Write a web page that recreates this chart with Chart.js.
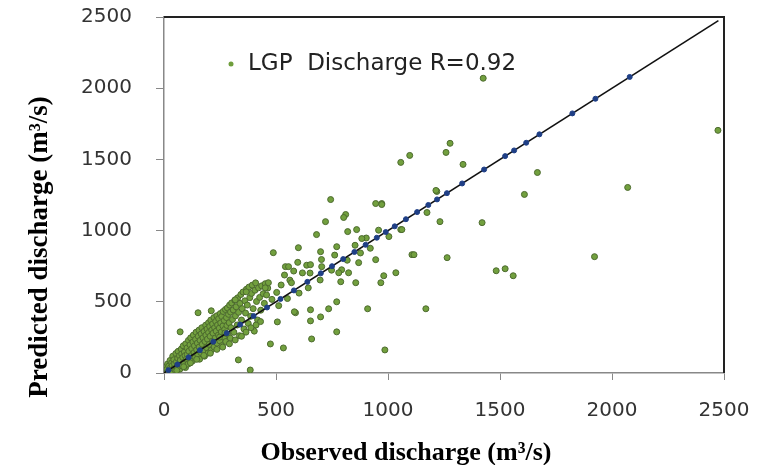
<!DOCTYPE html>
<html>
<head>
<meta charset="utf-8">
<script src="https://cdn.jsdelivr.net/npm/chart.js@4.4.0/dist/chart.umd.min.js"></script>
<style>
  html, body { margin: 0; padding: 0; background: #fff; }
  #wrap { width: 757px; height: 465px; }
</style>
</head>
<body>
<div id="wrap"><canvas id="dischargeChart" width="757" height="465"></canvas></div>
<script>
// axis ticks
const tickValues = [0, 500, 1000, 1500, 2000, 2500];

// LGP discharge: [observed, predicted] (m3/s)
const lgpPoints = [
  // dense cluster, 0-100
  [3,12],[7,41],[9,4],[13,27],[16,63],[19,9],[21,48],[24,22],[27,88],[29,37],
  [33,14],[34,71],[37,52],[39,118],[43,31],[44,93],[47,64],[51,17],[53,137],[56,79],
  [57,46],[61,104],[63,152],[66,58],[69,121],[71,27],[73,90],[77,168],[79,134],[81,49],
  [84,109],[86,191],[89,73],[91,147],[94,122],[96,38],[97,205],[99,96],
  // 100-200
  [103,176],[104,131],[107,62],[109,229],[111,153],[114,101],[116,198],[119,247],[121,122],[124,171],
  [127,84],[129,218],[131,266],[134,143],[136,191],[139,108],[141,237],[143,286],[146,163],[149,210],
  [151,129],[153,258],[156,301],[157,182],[159,97],[161,229],[164,144],[166,275],[169,318],[171,202],
  [174,247],[176,161],[179,292],[181,118],[183,221],[186,336],[187,266],[189,179],[192,309],[194,238],
  [197,140],[199,353],[199,284],
  // 200-300
  [202,201],[204,327],[206,258],[209,372],[211,160],[213,301],[216,224],[217,344],[219,279],[223,389],
  [224,183],[226,318],[229,246],[231,362],[233,294],[236,402],[237,209],[239,337],[243,267],[244,381],
  [247,315],[249,226],[251,417],[253,352],[256,288],[258,397],[259,192],[263,331],[264,432],[267,251],
  [269,369],[271,306],[274,446],[276,221],[279,389],[281,334],[283,457],[286,272],[288,412],[291,353],
  [293,477],[296,245],[297,428],[299,318],
  // 300-460
  [302,492],[306,376],[309,443],[312,286],[316,511],[319,401],[322,465],[327,337],[329,528],[333,426],
  [337,262],[339,489],[343,551],[346,372],[349,452],[353,569],[357,309],[361,507],[364,421],[368,588],
  [372,477],[376,348],[379,603],[383,529],[387,398],[391,559],[394,617],[398,452],[403,294],[406,581],
  [409,633],[413,502],[418,372],[422,598],[427,531],[432,441],[436,612],[443,557],[448,489],[452,627],
  [458,548],[463,596],
  // below the line inside the cluster
  [57,18],[88,44],[118,71],[146,96],[178,123],[207,139],[236,166],[262,182],[292,205],[318,232],
  [346,258],[366,287],[388,318],[411,337],[431,361],[248,252],[272,281],
  // 450-1000 near the line
  [482,517],[503,566],[512,473],[523,618],[538,688],[551,523],[562,652],[579,716],[597,777],[603,561],
  [618,703],[637,757],[644,598],[652,702],[697,653],[703,797],[748,722],[762,828],[818,792],[853,897],
  [877,843],[903,948],[921,876],[958,1003],
  // scattered
  [488,845],[600,880],[699,852],[771,887],[654,761],[542,747],[556,747],[704,747],[869,775],[945,796],
  [793,725],[1035,704],[981,683],[968,634],[856,634],[789,641],[780,704],[824,704],[771,500],[735,451],
  [909,451],[654,444],[587,423],[506,359],[654,366],[699,394],[771,289],[659,239],[475,204],[533,176],
  [986,162],[385,21],[318,514],[152,423],[211,437],[72,289],[367,570],[452,598],[466,634],[569,634],
  [582,430],[332,92],
  [744,1218],[945,1190],[972,1190],[811,1113],[802,1092],[721,1063],[681,972],[820,993],[860,1007],[1057,1007],
  [1004,958],[883,944],[1107,831],
  // outliers
  [1425,2070],[2473,1704],[1277,1613],[1259,1549],[1097,1528],[1057,1479],[1335,1465],[1667,1408],[1218,1275],[1609,1254],
  [2070,1303],[1174,1127],[1232,1063],[1420,1056],[1062,1007],[1116,831],[1264,810],[1922,817],[1483,718],[1523,732],
  [1559,683],[1169,451],[972,1183],[1214,1282]
];

// points lying on the 1:1 line
const onLinePoints = [
  [20,20],[60,60],[110,110],[160,160],[220,220],[280,280],[340,340],[400,400],[460,460],[520,520],
  [580,580],[640,640],[700,700],[750,750],[800,800],[850,850],[900,900],[950,950],[990,990],[1030,1030],
  [1080,1080],[1130,1130],[1180,1180],[1219,1219],[1263,1263],[1331,1331],[1429,1429],[1523,1523],[1563,1563],[1617,1617],
  [1676,1676],[1823,1823],[1926,1926],[2079,2079]
];

// 1:1 reference line ends
const lineEnds = [0, 2475];

const legendText = 'LGP  Discharge R=0.92';
const xTitle = 'Observed discharge (m³/s)';
const yTitle = 'Predicted discharge (m³/s)';

const toXY = arr => arr.map(p => ({ x: p[0], y: p[1] }));

const boxPlugin = {
  id: 'boxAndLegend',
  afterDraw(chart) {
    const { ctx, chartArea: a } = chart;
    ctx.save();
    // top and right frame
    ctx.strokeStyle = '#222';
    ctx.lineWidth = 2;
    ctx.beginPath();
    ctx.moveTo(a.left, a.top);
    ctx.lineTo(a.right, a.top);
    ctx.lineTo(a.right, a.bottom);
    ctx.stroke();
    // legend inside the plot
    const lx = a.left + 67, ly = a.top + 47;
    ctx.fillStyle = '#6f9e3c';
    ctx.beginPath();
    ctx.arc(lx, ly, 2.5, 0, Math.PI * 2);
    ctx.fill();
    ctx.fillStyle = '#222';
    ctx.font = '23px "DejaVu Sans"';
    ctx.textBaseline = 'middle';
    ctx.fillText(legendText, lx + 17, ly);
    // axis titles, placed as in the source (a bit off the plot centre)
    ctx.fillStyle = '#000';
    ctx.textAlign = 'center';
    ctx.textBaseline = 'alphabetic';
    ctx.font = 'bold 26px "Liberation Serif"';
    ctx.fillText(xTitle, 406, 460);
    ctx.translate(47, a.top + 230);
    ctx.rotate(-Math.PI / 2);
    ctx.font = 'bold 27px "Liberation Serif"';
    ctx.fillText(yTitle, 0, 0);
    ctx.restore();
  }
};

const plainTick = v => String(v);

const ctx = document.getElementById('dischargeChart').getContext('2d');
new Chart(ctx, {
  type: 'scatter',
  data: {
    datasets: [
      {
        label: 'on line',
        data: toXY(onLinePoints),
        backgroundColor: '#1f3f86',
        borderColor: '#1f3f86',
        pointRadius: 2.5,
        order: 1
      },
      {
        label: '1:1',
        type: 'line',
        data: lineEnds.map(v => ({ x: v, y: v })),
        borderColor: '#111',
        borderWidth: 1.6,
        pointRadius: 0,
        order: 2
      },
      {
        label: 'LGP Discharge R=0.92',
        data: toXY(lgpPoints),
        backgroundColor: '#72a03e',
        borderColor: '#4c6a2e',
        borderWidth: 1,
        pointRadius: 3,
        order: 3
      }
    ]
  },
  options: {
    responsive: false,
    animation: false,
    layout: { padding: { left: 0, right: 33, top: 17, bottom: 0 } },
    plugins: {
      legend: { display: false },
      tooltip: { enabled: false }
    },
    scales: {
      x: {
        type: 'linear',
        min: 0,
        max: 2500,
        afterBuildTicks: s => { s.ticks = tickValues.map(v => ({ value: v })); },
        afterFit: s => { s.height = 92; s.paddingLeft = 0; s.paddingRight = 0; },
        grid: { drawOnChartArea: false, color: '#888', tickLength: 7 },
        border: { color: '#888', width: 1.5 },
        ticks: { color: '#333', font: { family: 'DejaVu Sans', size: 20 }, padding: 19, callback: plainTick },
        title: { display: false }
      },
      y: {
        type: 'linear',
        min: 0,
        max: 2500,
        afterBuildTicks: s => { s.ticks = tickValues.map(v => ({ value: v })); },
        afterFit: s => { s.width = 164; s.paddingTop = 0; s.paddingBottom = 0; },
        grid: { drawOnChartArea: false, color: '#888', tickLength: 8 },
        border: { color: '#888', width: 1.5 },
        ticks: { color: '#333', font: { family: 'DejaVu Sans', size: 20 }, padding: 24, callback: plainTick },
        title: { display: false }
      }
    }
  },
  plugins: [boxPlugin]
});
</script>
</body>
</html>
